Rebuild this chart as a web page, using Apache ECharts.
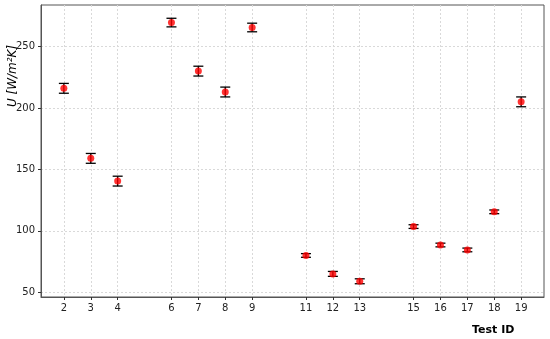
<!DOCTYPE html>
<html lang="en">
<head>
  <meta charset="UTF-8">
  <title>U per test</title>
  <script src="https://cdn.jsdelivr.net/npm/echarts@6.0.0/dist/echarts.min.js"></script>
  <style>
    html, body { margin: 0; padding: 0; background: #fff; }
  </style>
</head>
<body>
  <div id="chart" style="width: 550px;height:339px;"></div>

<script>
  // test ids, measured U and its uncertainty
  const testIds = [2, 3, 4, 6, 7, 8, 9, 11, 12, 13, 15, 16, 17, 18, 19]
  const uValues = [216, 159, 140.5, 269.5, 230, 213, 265.5, 80, 65, 59, 103.5, 88.5, 84.5, 115.5, 205]
  const uErrors = [4, 4, 4, 3.5, 4, 4, 3.5, 1.5, 2, 2, 1.5, 1.5, 1.5, 1.5, 4]
  const yTicks = [50, 100, 150, 200, 250]

  const points = testIds.map((id, i) => [id, uValues[i]])
  const bars = testIds.map((id, i) => [id, uValues[i] - uErrors[i], uValues[i] + uErrors[i]])

  const gridLine = { show: true, lineStyle: { color: '#d9d9d9', type: [2, 2], width: 1 } }
  const spine = { show: true, lineStyle: { color: '#555', width: 1 } }

  const myChart = echarts.init(document.getElementById('chart'))
  const option = {
    animation: false,
    title: {
      text: 'Test ID', left: 467, top: 320,
      textStyle: { fontFamily: 'DejaVu Sans', fontSize: 11, fontWeight: 'bold', color: '#000' }
    },
    grid: {
      left: 41, right: 6, top: 5, bottom: 42, outerBoundsMode: 'none', containLabel: false,
      show: true, borderColor: '#555', borderWidth: 1, backgroundColor: '#fff'
    },
    xAxis: {
      type: 'value', min: 1.15, max: 19.85,
      axisLine: spine,
      axisTick: { show: true, length: 3, customValues: testIds, lineStyle: { color: '#333' } },
      axisLabel: { customValues: testIds, fontFamily: 'DejaVu Sans', fontSize: 10, color: '#222', margin: 6 },
      splitLine: gridLine
    },
    yAxis: {
      type: 'value', min: 46.2, max: 283.8,
      name: 'U [W/m²K]', nameLocation: 'middle', nameGap: 22, nameMoveOverlap: false,
      nameTextStyle: { fontFamily: 'DejaVu Sans', fontSize: 12, fontStyle: 'italic', color: '#000', padding: [0, 0, 0, 150] },
      axisLine: spine,
      axisTick: { show: true, length: 3, customValues: yTicks, lineStyle: { color: '#333' } },
      axisLabel: { customValues: yTicks, fontFamily: 'DejaVu Sans', fontSize: 10, color: '#222', margin: 6 },
      splitLine: gridLine
    },
    series: [
      {
        type: 'custom',
        data: bars,
        z: 2,
        renderItem: function (params, api) {
          const x = api.value(0)
          const lo = api.coord([x, api.value(1)])
          const hi = api.coord([x, api.value(2)])
          const w = 5
          const style = { stroke: '#000', lineWidth: 1.3 }
          return {
            type: 'group',
            children: [
              { type: 'line', shape: { x1: lo[0], y1: lo[1], x2: hi[0], y2: hi[1] }, style: style },
              { type: 'line', shape: { x1: lo[0] - w, y1: lo[1], x2: lo[0] + w, y2: lo[1] }, style: style },
              { type: 'line', shape: { x1: hi[0] - w, y1: hi[1], x2: hi[0] + w, y2: hi[1] }, style: style }
            ]
          }
        }
      },
      {
        type: 'scatter',
        data: points,
        z: 3,
        symbol: 'circle',
        symbolSize: 7,
        itemStyle: { color: '#ff0000' }
      }
    ]
  }
  myChart.setOption(option)
</script>
</body>
</html>
